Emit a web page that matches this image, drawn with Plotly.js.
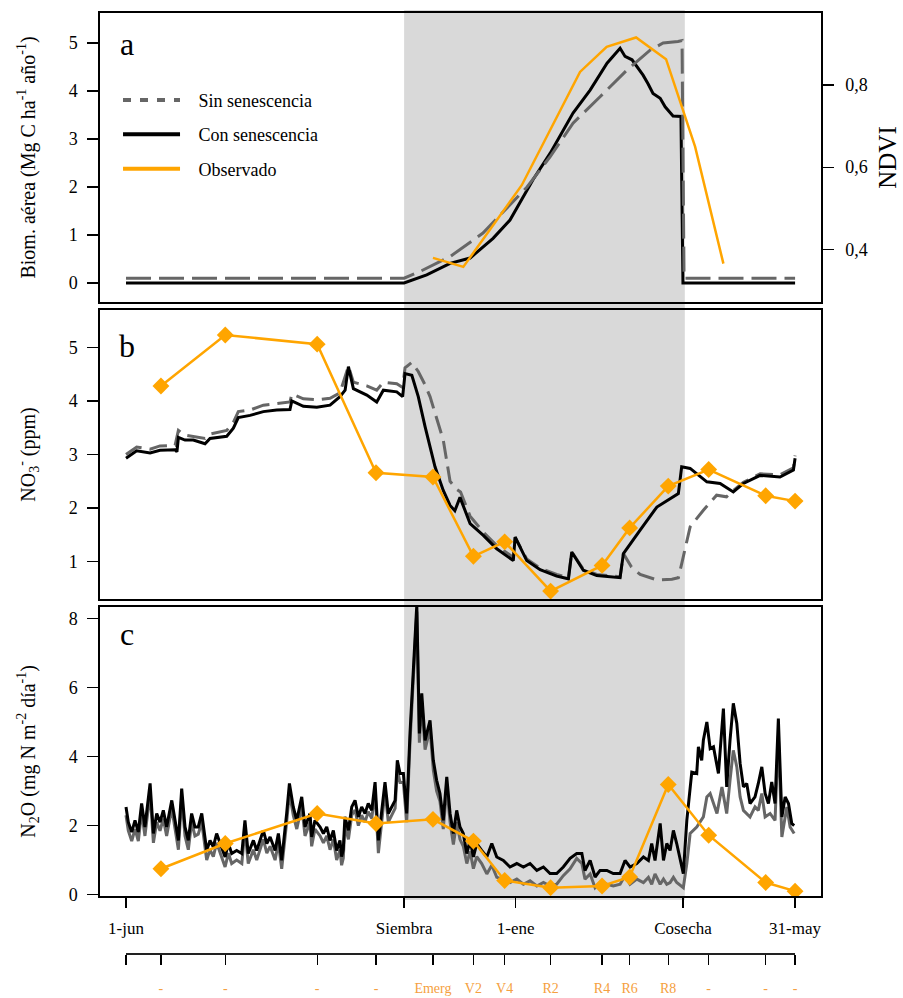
<!DOCTYPE html>
<html>
<head>
<meta charset="utf-8">
<script src="https://cdn.plot.ly/plotly-3.0.1.min.js"></script>
<style>html,body{margin:0;padding:0;background:#fff;}</style>
</head>
<body>
<div id="chart" style="width:903px;height:998px;"></div>
<script>
// ---- Data (x = days since 1-jun) ----
const cropPeriod = [151.3, 304];            // Siembra -> Cosecha
const tickDays = [0, 151.3, 212, 303, 364];
const tickLabels = ['1-jun', 'Siembra', '1-ene', 'Cosecha', '31-may'];
const obsDays = [19, 54, 104, 136, 167, 189, 206, 231, 259, 274, 295, 317, 348, 364];
const stageLabels = ['-', '-', '-', '-', 'Emerg', 'V2', 'V4', 'R2', 'R4', 'R6', 'R8', '-', '-', '-'];
const no3Obs = [4.28, 5.23, 5.06, 2.66, 2.58, 1.10, 1.37, 0.45, 0.93, 1.63, 2.41, 2.72, 2.23, 2.13];
const n2oObs = [0.75, 1.48, 2.35, 2.06, 2.18, 1.55, 0.41, 0.20, 0.25, 0.51, 3.19, 1.72, 0.35, 0.10];
const ndviObs = [[167,0.379],[183.5,0.357],[215.3,0.556],[247,0.832],[261.5,0.893],[277.5,0.916],[293.8,0.863],[309.6,0.65],[325,0.365]];

const biomSin = [[0,0.1],[151.3,0.1],[160,0.24],[176.3,0.55],[194.2,1.04],[218.2,2.0],[230.7,2.63],[243.2,3.33],[257.9,3.88],[272.6,4.44],[285.1,4.85],[292.2,5.0],[300.3,5.03],[302.5,5.05],[303.6,0.1],[364,0.1]];
const biomCon = [[0,0],[151.3,0],[163.6,0.17],[176.3,0.41],[187.2,0.52],[199.7,0.93],[208.9,1.31],[221.4,2.15],[230.7,2.7],[243.2,3.54],[252.5,4.02],[261.7,4.58],[268.8,4.89],[271.5,4.72],[275.3,4.65],[278,4.5],[281.3,4.33],[284,4.15],[286.7,3.95],[290.6,3.85],[293.3,3.67],[297.6,3.48],[301.9,3.47],[303,0],[364,0]];

const no3Con = [[0,2.93],[5.8,3.07],[13.1,3.03],[18.5,3.08],[26.7,3.09],[27.7,3.05],[28.5,3.32],[32.1,3.27],[36.6,3.27],[43,3.2],[45.7,3.3],[54.8,3.34],[58.4,3.49],[61.1,3.69],[67.5,3.73],[74.7,3.8],[82,3.83],[89.2,3.84],[90.2,4.0],[96.5,3.9],[103.8,3.88],[111,3.92],[116.4,4.08],[119.2,4.2],[121,4.64],[123.7,4.23],[131,4.11],[136.4,3.98],[140,4.2],[147.3,4.17],[150.5,4.08],[151.8,4.51],[155.5,4.48],[159,4.08],[162.7,3.52],[168.1,2.77],[172.6,2.33],[176.3,2.05],[178.9,1.95],[181.7,2.2],[187.2,1.71],[194.4,1.49],[201.7,1.24],[210.7,1.02],[211.7,1.46],[218,1.02],[225.3,0.85],[234.3,0.73],[240.7,0.68],[242.5,1.18],[248.8,0.84],[256.1,0.74],[268.8,0.7],[270.6,1.15],[279.7,1.59],[288.8,2.02],[300.5,2.27],[302.3,2.77],[306.9,2.74],[316,2.49],[323.2,2.46],[330.4,2.3],[335.9,2.46],[345,2.61],[355.8,2.58],[363.1,2.71],[364,2.93]];
const no3Sin = [[0,3.0],[5.8,3.14],[13.1,3.1],[18.5,3.16],[26.7,3.17],[28.5,3.45],[32.1,3.36],[36.6,3.33],[43,3.3],[45.7,3.38],[54.8,3.45],[58.4,3.6],[61.1,3.8],[67.5,3.83],[74.7,3.92],[82,3.95],[89.2,3.98],[90.2,4.13],[96.5,4.04],[103.8,4.02],[111,4.05],[116.4,4.15],[121,4.65],[123.7,4.35],[131,4.28],[136.4,4.2],[140,4.35],[147.3,4.32],[150.5,4.25],[151.8,4.62],[155.5,4.72],[159,4.55],[162.7,4.3],[165.4,4.08],[172.6,3.27],[176.3,2.5],[179.9,2.35],[182,2.3],[187.2,1.85],[194.4,1.55],[201.7,1.3],[210.7,1.08],[211.7,1.45],[218,1.05],[225.3,0.88],[234.3,0.76],[240.7,0.7],[242.5,1.18],[248.8,0.86],[256.1,0.76],[268.8,0.72],[270.6,1.15],[275,0.9],[279.7,0.76],[288.8,0.66],[297,0.67],[300.5,0.7],[302.3,0.96],[306.9,1.65],[314.1,1.96],[321.3,2.24],[326.7,2.21],[330.4,2.33],[335.9,2.48],[345,2.64],[355.8,2.62],[363.1,2.75],[364,2.98]];

const n2oCon = [[0,2.54],[1.25,2.1],[3.1,1.81],[4.9,2.15],[6.7,1.81],[8.5,2.64],[10.3,1.96],[13.1,3.22],[14.9,1.77],[16.7,2.35],[18.5,2.1],[20.3,2.44],[22.1,1.96],[24.9,2.73],[26.7,2.15],[28.5,1.57],[30.3,3.07],[32.1,1.96],[33.9,1.57],[35.7,2.35],[37.5,1.96],[39.3,1.96],[41.2,2.35],[43.9,1.28],[45.7,1.57],[47.5,1.38],[49.3,1.77],[52.1,1.38],[53.9,1.09],[55.7,1.48],[57.5,1.19],[60.2,1.28],[63,1.19],[64.7,2.15],[66.5,1.19],[69.3,1.57],[71.1,1.28],[74.7,1.86],[76.6,1.48],[78.4,1.67],[81.1,1.28],[82.9,1.77],[84.7,0.99],[87.4,2.35],[88.9,3.22],[91,2.54],[92.9,2.15],[95.6,2.83],[97.4,1.96],[100.1,2.35],[101,1.67],[102.8,2.15],[105.6,1.96],[107.4,1.77],[109.2,1.96],[111,1.57],[112.8,1.86],[114.6,1.28],[116.4,1.57],[117.3,1.1],[118.2,1.3],[119.1,2.25],[121,1.86],[122.8,2.54],[124.6,2.73],[126.4,2.25],[128.2,2.54],[130,2.35],[131.8,2.64],[133.7,2.44],[135.5,3.26],[137.3,1.57],[139.1,2.35],[140.9,3.26],[142.7,2.35],[144.6,2.54],[146.4,2.73],[147.6,3.89],[149.1,3.51],[150.9,3.51],[152.7,2.35],[154.5,4.67],[156.3,6.6],[158.2,8.4],[159.6,4.67],[160.9,5.83],[162.7,4.47],[165.4,5.05],[167.2,3.89],[169,3.31],[170.8,2.93],[172.6,2.15],[174.5,3.41],[176.3,2.35],[178.1,1.77],[179.9,2.44],[181.7,1.96],[183.5,1.77],[185.4,1.19],[187.2,1.57],[189,1.09],[190.8,1.48],[193.5,1.28],[196.3,1.09],[199,1.48],[201.7,1.09],[205.3,0.99],[208.9,0.8],[212.6,0.9],[216.2,0.8],[219.8,0.9],[223.5,0.7],[227.1,0.8],[230.7,0.61],[234.3,0.61],[237.9,0.8],[241.6,1.05],[245.2,1.19],[248,1.19],[249.7,0.7],[252.5,0.99],[255.2,0.51],[257.9,0.7],[261.6,0.7],[265.1,0.61],[268.8,0.61],[271.5,0.99],[274.2,0.8],[277.9,0.9],[281.5,1.09],[284.2,0.99],[286,1.48],[287.8,0.99],[290.6,2.06],[292.4,0.99],[294.2,1.48],[296,1.28],[297.8,1.86],[299.6,1.48],[303.2,0.61],[305.1,2.15],[307.8,3.55],[310.5,3.51],[311.4,4.28],[313.2,3.89],[314.1,4.47],[316,5.0],[317.8,4.23],[319.6,4.28],[322.3,3.51],[325,5.39],[326.8,3.12],[328.6,4.47],[330.4,5.54],[332.3,4.96],[334.1,3.8],[335.9,3.12],[337.7,3.22],[339.5,2.64],[342.2,2.83],[344,3.22],[345.9,3.7],[347.7,2.93],[349.5,2.64],[351.3,3.26],[353.1,2.64],[354.9,5.1],[356.8,2.25],[358.6,2.83],[360.4,2.64],[362.2,2.06],[363.5,2.0]];
const n2oSin = [[0,2.3],[1.25,1.85],[3.1,1.55],[4.9,1.9],[6.7,1.55],[8.5,2.4],[10.3,1.7],[13.1,2.95],[14.9,1.5],[16.7,2.1],[18.5,1.85],[20.3,2.2],[22.1,1.7],[24.9,2.5],[26.7,1.9],[28.5,1.3],[30.3,2.8],[32.1,1.7],[33.9,1.3],[35.7,2.1],[37.5,1.7],[39.3,1.75],[41.2,2.1],[43.9,1.0],[45.7,1.3],[47.5,1.1],[49.3,1.5],[52.1,1.1],[53.9,0.8],[55.7,1.2],[57.5,0.9],[60.2,1.0],[63,0.9],[64.7,1.9],[66.5,0.9],[69.3,1.3],[71.1,1.0],[74.7,1.6],[76.6,1.2],[78.4,1.4],[81.1,1.0],[82.9,1.5],[84.7,0.75],[87.4,2.1],[88.9,2.95],[91,2.3],[92.9,1.9],[95.6,2.55],[97.4,1.7],[100.1,2.1],[101,1.4],[102.8,1.9],[105.6,1.7],[107.4,1.5],[109.2,1.7],[111,1.3],[112.8,1.6],[114.6,1.0],[116.4,1.3],[117.3,0.85],[118.2,1.05],[119.1,2.0],[121,1.6],[122.8,2.3],[124.6,2.45],[126.4,2.0],[128.2,2.3],[130,2.1],[131.8,2.4],[133.7,2.2],[135.5,3.0],[137.3,1.2],[139.1,2.1],[140.9,3.0],[142.7,2.1],[144.6,2.3],[146.4,2.5],[147.6,3.6],[149.1,3.25],[150.9,3.25],[152.7,2.1],[154.5,4.4],[156.3,6.3],[158.2,8.2],[159.6,4.4],[160.9,5.6],[162.7,4.2],[165.4,4.8],[167.2,3.6],[169,3.0],[170.8,2.7],[172.6,1.9],[174.5,3.1],[176.3,2.1],[178.1,1.45],[179.9,2.1],[181.7,1.6],[183.5,1.4],[185.4,0.9],[187.2,1.25],[189,0.75],[190.8,1.1],[193.5,0.9],[196.3,0.6],[199,0.85],[201.7,0.5],[205.3,0.45],[208.9,0.35],[212.6,0.45],[216.2,0.3],[219.8,0.4],[223.5,0.25],[227.1,0.35],[230.7,0.25],[234.3,0.3],[237.9,0.55],[241.6,0.75],[245.2,1.05],[248,0.9],[249.7,0.45],[252.5,0.6],[255.2,0.2],[257.9,0.35],[261.6,0.3],[265.1,0.25],[268.8,0.3],[271.5,0.55],[274.2,0.3],[277.9,0.45],[281.5,0.35],[284.2,0.5],[286,0.3],[287.8,0.6],[290.6,0.3],[292.4,0.45],[294.2,0.3],[296,0.35],[297.8,0.5],[299.6,0.35],[303.2,0.2],[305.1,0.9],[306.9,1.77],[310.5,1.96],[314.1,2.25],[316,2.83],[317.8,2.93],[321.5,2.35],[324.2,3.12],[326.8,2.35],[328.6,3.31],[330.4,4.18],[332.3,3.7],[334.1,2.83],[335.9,2.44],[339.5,2.25],[342.2,2.54],[344,2.44],[345.9,2.93],[347.7,2.25],[350.4,2.35],[353.1,2.15],[354.9,4.6],[356.8,1.67],[359.5,2.54],[361.3,1.96],[363.5,1.77]];

// ---- Styles ----
const FONT = 'Liberation Serif, Times New Roman, serif';
const GRAY = '#666666';
const ORANGE = '#FFA500';
const xs = a => a.map(p => p[0]);
const ys = a => a.map(p => p[1]);
const PAD = '&nbsp;&nbsp;&nbsp;';

const traces = [
  // legend entries
  {x:[null], y:[null], xaxis:'x2', yaxis:'y', mode:'lines', name:PAD + 'Sin senescencia', legendgroup:'g1',
   line:{color:GRAY, width:4, dash:'8px,9px'}},
  {x:[null], y:[null], xaxis:'x2', yaxis:'y', mode:'lines', name:PAD + 'Con senescencia', legendgroup:'g2',
   line:{color:'black', width:4}},
  {x:[null], y:[null], xaxis:'x2', yaxis:'y', mode:'lines', name:PAD + 'Observado', legendgroup:'g3',
   line:{color:ORANGE, width:4}},
  // panel a
  {x:xs(biomCon), y:ys(biomCon), xaxis:'x2', yaxis:'y', mode:'lines', showlegend:false,
   line:{color:'black', width:3}},
  {x:xs(biomSin), y:ys(biomSin), xaxis:'x2', yaxis:'y', mode:'lines', showlegend:false,
   line:{color:GRAY, width:3, dash:'25px,8px'}},
  {x:xs(ndviObs), y:ys(ndviObs), xaxis:'x2', yaxis:'y2', mode:'lines', showlegend:false,
   line:{color:ORANGE, width:2.5}},
  // panel b
  {x:xs(no3Sin), y:ys(no3Sin), xaxis:'x3', yaxis:'y3', mode:'lines', showlegend:false,
   line:{color:GRAY, width:3, dash:'18px,8px'}},
  {x:xs(no3Con), y:ys(no3Con), xaxis:'x3', yaxis:'y3', mode:'lines', showlegend:false,
   line:{color:'black', width:3}},
  {x:obsDays, y:no3Obs, xaxis:'x3', yaxis:'y3', mode:'lines+markers', showlegend:false,
   line:{color:ORANGE, width:2.5}, marker:{symbol:'diamond', size:13, color:ORANGE}},
  // panel c
  {x:xs(n2oSin), y:ys(n2oSin), xaxis:'x', yaxis:'y4', mode:'lines', showlegend:false,
   line:{color:GRAY, width:3}},
  {x:xs(n2oCon), y:ys(n2oCon), xaxis:'x', yaxis:'y4', mode:'lines', showlegend:false,
   line:{color:'black', width:3}},
  {x:obsDays, y:n2oObs, xaxis:'x', yaxis:'y4', mode:'lines+markers', showlegend:false,
   line:{color:ORANGE, width:2.5}, marker:{symbol:'diamond', size:13, color:ORANGE}},
  // phenology axis holder
  {x:[null], y:[null], xaxis:'x4', yaxis:'y', mode:'lines', showlegend:false, hoverinfo:'skip'}
];

const boxAxis = {showline:true, linecolor:'black', linewidth:1.6, mirror:true, showgrid:false, zeroline:false};
const yTick = {ticks:'outside', ticklen:11, tickwidth:1.3, tickcolor:'black', tickfont:{size:18}, ticklabelstandoff:6};
const XR = [-14.15, 378.1];

const layout = {
  width:903, height:998,
  margin:{l:100, r:82, t:13, b:30},
  paper_bgcolor:'white', plot_bgcolor:'rgba(0,0,0,0)',
  font:{family:FONT, size:17, color:'black'},
  showlegend:true,
  legend:{x:0.025, y:0.928, xanchor:'left', yanchor:'top', bgcolor:'rgba(0,0,0,0)',
          font:{size:18, family:FONT}, itemwidth:57, tracegroupgap:8, traceorder:'grouped'},
  xaxis: Object.assign({}, boxAxis, {anchor:'y4', range:XR, tickvals:tickDays, ticktext:tickLabels,
          ticks:'outside', ticklen:10, tickwidth:1.3, tickcolor:'black', tickfont:{size:17}, ticklabelstandoff:6}),
  xaxis2: Object.assign({}, boxAxis, {anchor:'y', matches:'x', range:XR, showticklabels:false, ticks:''}),
  xaxis3: Object.assign({}, boxAxis, {anchor:'y3', matches:'x', range:XR, showticklabels:false, ticks:''}),
  xaxis4: {anchor:'free', position:0.0145, domain:[0.03606, 0.96394], range:[0, 364],
           showline:true, linecolor:'#222', linewidth:2, showgrid:false, zeroline:false,
           tickvals:[0].concat(obsDays), ticktext:[' '].concat(stageLabels),
           ticks:'outside', ticklen:10, tickwidth:1.2, tickcolor:'black',
           tickfont:{size:14, color:'#F5A040'}, ticklabelstandoff:11},
  yaxis: Object.assign({}, boxAxis, yTick, {domain:[0.6974, 1], anchor:'x2', range:[-0.396, 5.625],
          tickvals:[0,1,2,3,4,5],
          title:{text:'Biom. aérea (Mg C ha<sup>-1</sup> año<sup>-1</sup>)', font:{size:20}, standoff:28}}),
  yaxis2: {overlaying:'y', side:'right', anchor:'x2', range:[0.2715, 0.9756], showline:true, linecolor:'black',
           linewidth:1.6, showgrid:false, zeroline:false, tickvals:[0.4,0.6,0.8], ticktext:['0,4','0,6','0,8'],
           ticks:'outside', ticklen:11, tickwidth:1.3, tickcolor:'black', tickfont:{size:18}, ticklabelstandoff:8,
           title:{text:'NDVI', font:{size:25}, standoff:12}},
  yaxis3: Object.assign({}, boxAxis, yTick, {domain:[0.3864, 0.6890], anchor:'x3', range:[0.303, 5.697],
          tickvals:[1,2,3,4,5],
          title:{text:'NO<sub>3</sub><sup>-</sup> (ppm)', font:{size:20}, standoff:28}}),
  yaxis4: Object.assign({}, boxAxis, yTick, {domain:[0.0754, 0.3783], anchor:'x', range:[-0.04, 8.34],
          tickvals:[0,2,4,6,8],
          title:{text:'N<sub>2</sub>O (mg N m<sup>-2</sup> día<sup>-1</sup>)', font:{size:20}, standoff:28}}),
  shapes:[{type:'rect', xref:'x', yref:'paper', x0:cropPeriod[0], x1:cropPeriod[1], y0:0.0712, y1:1.0031,
           fillcolor:'#d9d9d9', line:{width:0}, layer:'below'}],
  annotations:[
    {text:'a', xref:'paper', yref:'paper', x:0.0374, y:0.968, showarrow:false, font:{size:32}, xanchor:'center', yanchor:'middle'},
    {text:'b', xref:'paper', yref:'paper', x:0.0374, y:0.6515, showarrow:false, font:{size:32}, xanchor:'center', yanchor:'middle'},
    {text:'c', xref:'paper', yref:'paper', x:0.0374, y:0.3495, showarrow:false, font:{size:32}, xanchor:'center', yanchor:'middle'}
  ]
};

Plotly.newPlot('chart', traces, layout, {displayModeBar:false, staticPlot:true});
</script>
</body>
</html>
